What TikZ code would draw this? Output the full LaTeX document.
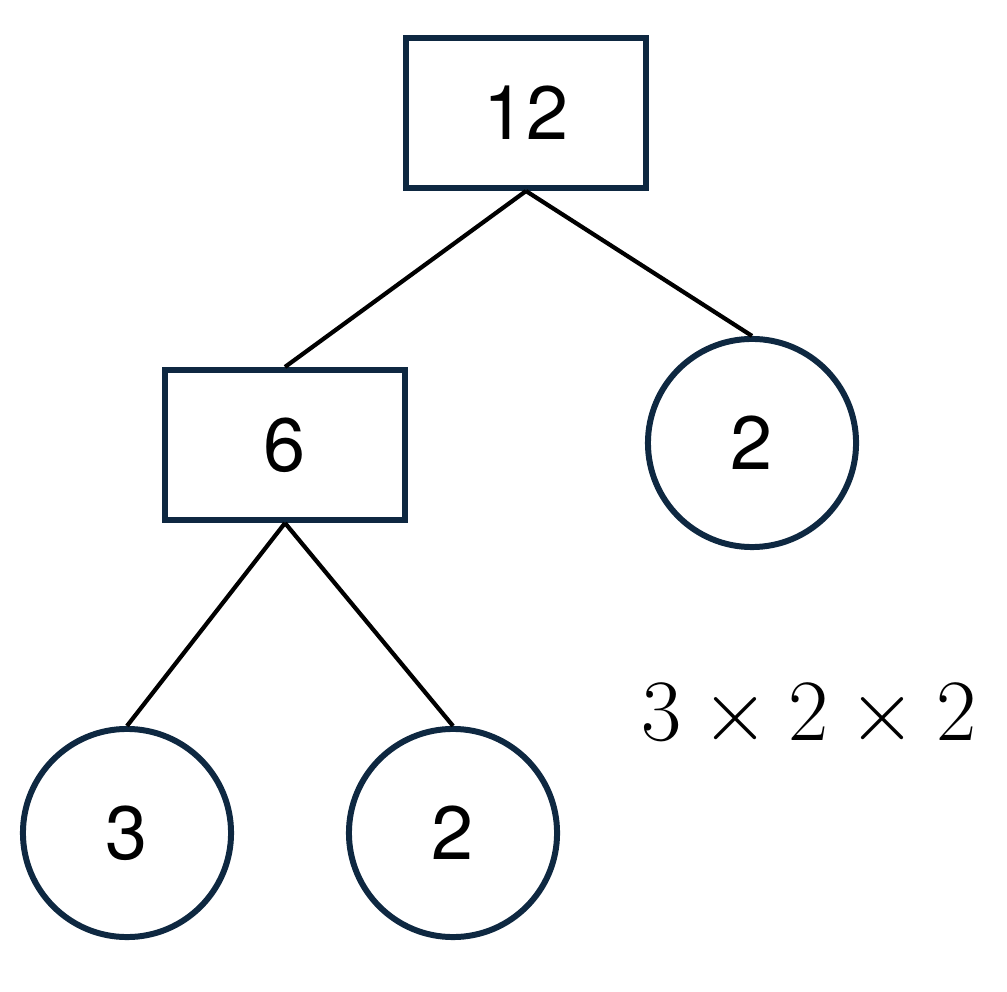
\documentclass[tikz,border=0pt]{standalone}
\usepackage{fontspec}
\setsansfont{TeX Gyre Heros}
\usepackage{tikz}
\definecolor{navy}{HTML}{0E2841}

\begin{document}
\begin{tikzpicture}[x=0.01cm, y=-0.01cm,
  every node/.style={font=\sffamily\fontsize{21.5}{24}\selectfont},
  factor/.style={rectangle, draw=navy, line width=1.7pt, minimum width=2.4cm, minimum height=1.5cm},
  prime/.style={circle, draw=navy, line width=1.7pt, minimum size=2.08cm},
  branch/.style={black, line width=1.2pt}]
  \useasboundingbox (0,0) rectangle (1007,992);
  \node (n12) [factor] at (526,113) {12};
  \node (n6) [factor] at (285,445) {6};
  \node (p2a) [prime] at (752,443) {2};
  \node (p3) [prime] at (127,833) {3};
  \node (p2b) [prime] at (453,833) {2};
  \node (prod) [font=\fontsize{24}{28}\selectfont] at (809,716) {$3\times2\times2$};
  \draw[branch] (n12.south) -- (n6.north);
  \draw[branch] (n12.south) -- (p2a.north);
  \draw[branch] (n6.south) -- (p3.north);
  \draw[branch] (n6.south) -- (p2b.north);
\end{tikzpicture}
\end{document}
